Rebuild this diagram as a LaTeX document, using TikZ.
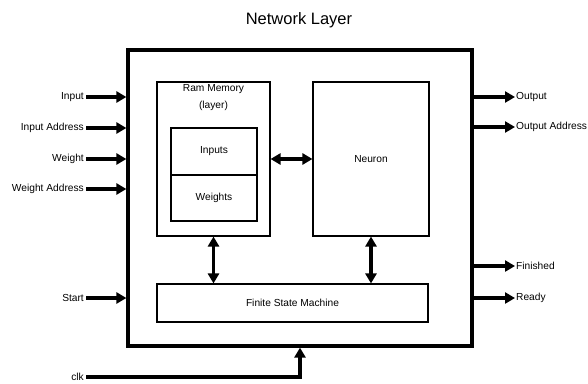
\documentclass[tikz,border=0pt]{standalone}
\usepackage{fontspec}
\setmainfont{Liberation Sans}
\usetikzlibrary{arrows.meta}
\begin{document}
\begin{tikzpicture}[x=1pt,y=-1pt,
  lbl/.style={font=\fontsize{10.2}{12}\selectfont, inner sep=2pt},
  block/.style={draw, line width=1.1pt, inner sep=0pt, font=\fontsize{10.2}{12}\selectfont},
  frame/.style={draw, line width=3.2pt, inner sep=0pt},
  sig/.style={line width=3.2pt, -{Triangle[length=10pt,width=11pt]}},
  bus/.style={line width=3.2pt, {Triangle[length=10pt,width=11pt]}-{Triangle[length=10pt,width=11pt]}}
]
\useasboundingbox (0,0) rectangle (588,383);

% title
\node[font=\fontsize{16.5}{18}\selectfont] (title) at (299,20) {Network Layer};

% enclosing layer block
\node[frame, minimum width=344pt, minimum height=296pt] (outer) at (300,198) {};

% memory with its two partitions
\node[block, minimum width=113pt, minimum height=154pt] (ram) at (213.5,159) {};
\node[lbl, anchor=center] (ramlbl) at (213.5,89) {Ram Memory};
\node[lbl, anchor=center] (ramsub) at (213.5,105.5) {(layer)};
\node[block, minimum width=86pt, minimum height=47pt] (inputs) at (214,151.5) {Inputs};
\node[block, minimum width=86pt, minimum height=46pt] (weights) at (214,198) {Weights};

% neuron and controller
\node[block, minimum width=116pt, minimum height=154pt] (neuron) at (371,159) {Neuron};
\node[block, minimum width=271pt, minimum height=38pt] (fsm) at (292.5,303) {Finite State Machine};

% internal buses
\draw[bus] (ram.east) -- (neuron.west);
\draw[bus] (ram.south) -- (ram.south |- fsm.north);
\draw[bus] (neuron.south) -- (neuron.south |- fsm.north);

% inputs
\node[lbl, anchor=east] (in) at (86,97) {Input};
\node[lbl, anchor=east] (inaddr) at (86,128) {Input Address};
\node[lbl, anchor=east] (w) at (86,159) {Weight};
\node[lbl, anchor=east] (waddr) at (86,189) {Weight Address};
\node[lbl, anchor=east] (start) at (86,298) {Start};
\node[lbl, anchor=east] (clk) at (86,377) {clk};
\foreach \s in {in,inaddr,w,waddr,start}
  \draw[sig] (\s.east) -- (\s.east -| outer.west);
\draw[sig] (clk.east) -| (outer.south);

% outputs
\node[lbl, anchor=west, inner sep=1pt] (out) at (515,97) {Output};
\node[lbl, anchor=west, inner sep=1pt] (outaddr) at (515,127) {Output Address};
\node[lbl, anchor=west, inner sep=1pt] (fin) at (515,266) {Finished};
\node[lbl, anchor=west, inner sep=1pt] (ready) at (515,298) {Ready};
\foreach \s in {out,outaddr,fin,ready}
  \draw[sig] (\s.west -| outer.east) -- (\s.west);
\end{tikzpicture}
\end{document}
